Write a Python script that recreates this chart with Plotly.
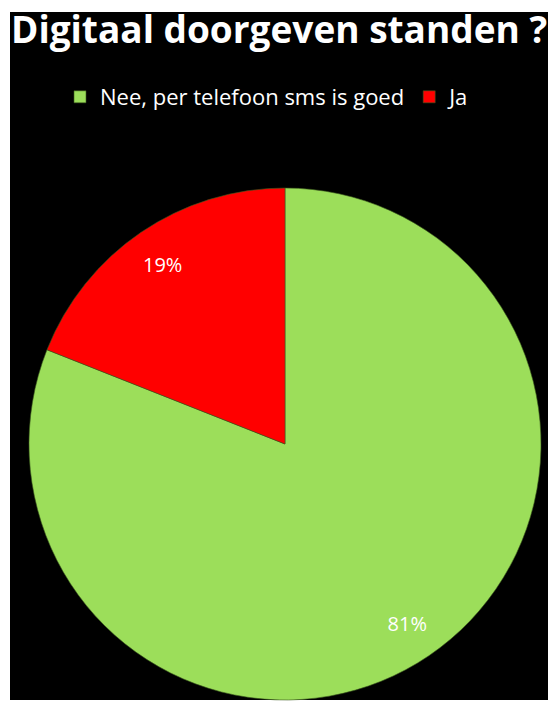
import plotly.graph_objects as go

labels = ["Nee, per telefoon sms is goed", "Ja"]
values = [81, 19]
colors = ["#9CDE5A", "#FF0000"]
title_text = "Digitaal doorgeven standen ?"

W, H = 548, 704
FONT = "Open Sans"


def fx(px):
    return px / W


def fy(py):
    return 1 - py / H


# pie extent in reference pixels
px_left, px_right = 29, 541
px_top, px_bottom = 188, 700

dom_x = [fx(px_left), fx(px_right)]
dom_y = [fy(px_bottom), fy(px_top)]

fig = go.Figure()
fig.add_trace(go.Pie(
    labels=labels, values=values, sort=False, direction="clockwise", rotation=0,
    marker=dict(colors=colors, line=dict(width=1, color="rgba(60,90,30,0.6)")),
    textinfo="none", domain=dict(x=dom_x, y=dom_y), hoverinfo="label+percent",
))
# transparent ring overlay to place percentage labels near the rim
fig.add_trace(go.Pie(
    labels=labels, values=values, sort=False, direction="clockwise", rotation=0,
    hole=0.7, showlegend=False,
    marker=dict(colors=["rgba(0,0,0,0)"] * 2, line=dict(width=0)),
    textinfo="percent", textposition="inside", insidetextorientation="horizontal",
    textfont=dict(family=FONT, size=20, color="white"),
    domain=dict(x=dom_x, y=dom_y), hoverinfo="skip",
))

fig.update_layout(
    width=W, height=H,
    margin=dict(l=0, r=0, t=0, b=0),
    paper_bgcolor="white", plot_bgcolor="white",
    shapes=[dict(type="rect", xref="paper", yref="paper",
                 x0=fx(10), x1=1.05, y0=fy(700), y1=fy(12),
                 fillcolor="black", line=dict(width=0), layer="below")],
    title=dict(text="<b>" + title_text + "</b>", x=fx(11), xanchor="left",
               y=fy(17), yanchor="top", yref="container",
               font=dict(family=FONT, size=37, color="white")),
    legend=dict(orientation="h", x=fx(100 - 40), xanchor="left", y=fy(97), yanchor="middle",
                font=dict(family=FONT, size=22, color="white"), bgcolor="rgba(0,0,0,0)"),
)

fig.write_html(
    "out.html",
    config={"displayModeBar": False},
    post_script="document.body.style.margin='0';document.body.style.overflow='hidden';",
)
